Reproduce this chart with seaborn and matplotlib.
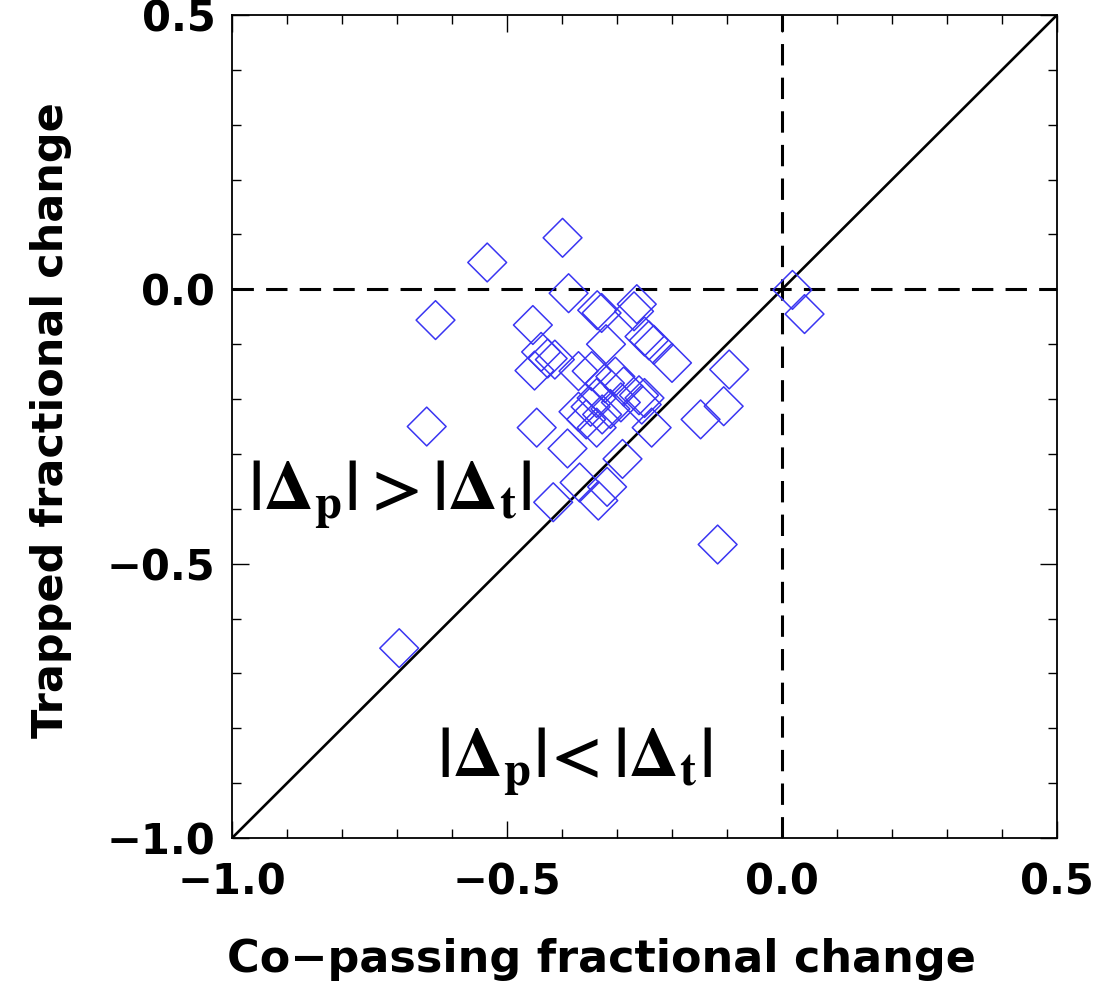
import numpy as np
import pandas as pd
import matplotlib
matplotlib.use("Agg")
import matplotlib.pyplot as plt
from matplotlib.ticker import MultipleLocator
import seaborn as sns

# Fractional change of co-passing vs trapped populations, one diamond per case
co_passing = [
    -0.399, -0.536, -0.388, -0.630, -0.453, -0.336, -0.328, -0.264, -0.269,
    -0.320, -0.250, -0.242, -0.233, -0.200, -0.438, -0.426, -0.450, -0.096,
    -0.646, -0.446, -0.390, -0.106, -0.148, -0.237, -0.290, -0.368, -0.318,
    -0.416, -0.334, -0.117, -0.696, 0.019, 0.041,
    -0.370, -0.346, -0.322, -0.303, -0.288, -0.260, -0.250, -0.255, -0.370,
    -0.356, -0.337, -0.327, -0.293, -0.312, -0.413, -0.337, -0.348,
]
trapped = [
    0.094, 0.049, -0.007, -0.056, -0.065, -0.038, -0.043, -0.027, -0.040,
    -0.100, -0.086, -0.093, -0.101, -0.134, -0.114, -0.126, -0.148, -0.146,
    -0.250, -0.252, -0.290, -0.213, -0.237, -0.252, -0.309, -0.352, -0.360,
    -0.388, -0.385, -0.465, -0.654, -0.001, -0.045,
    -0.149, -0.149, -0.171, -0.159, -0.177, -0.193, -0.198, -0.210, -0.223,
    -0.237, -0.252, -0.228, -0.206, -0.218, -0.128, -0.198, -0.214,
]

x_ticks = [-1.0, -0.5, 0.0, 0.5]
y_ticks = [-1.0, -0.5, 0.0, 0.5]

df = pd.DataFrame({"copassing": co_passing, "trapped": trapped})

sns.set_style("ticks")
plt.rcParams["font.family"] = ["DejaVu Sans"]
plt.rcParams["mathtext.fontset"] = "stix"
for key in ("text.color", "axes.labelcolor", "xtick.color", "ytick.color",
            "axes.edgecolor"):
    plt.rcParams[key] = "black"

fig = plt.figure(figsize=(11.07, 9.82), dpi=100)
ax = fig.add_axes([0.2096, 0.1466, 0.7452, 0.8381])

# Reference lines: identity diagonal and the zero axes
ax.plot([-1.0, 0.5], [-1.0, 0.5], color="black", lw=1.9, zorder=1)
ax.axhline(0.0, color="black", lw=2.2, ls=(0, (7, 4)), zorder=1)
ax.axvline(0.0, color="black", lw=2.2, ls=(0, (7, 4)), zorder=1)

sns.scatterplot(data=df, x="copassing", y="trapped", marker="D", s=390,
                ax=ax, zorder=3, legend=False)
coll = ax.collections[-1]
coll.set_facecolor("none")
coll.set_edgecolor("#3a35f2")
coll.set_linewidth(1.1)

ax.set_xlim(-1.0, 0.5)
ax.set_ylim(-1.0, 0.5)
ax.set_xticks(x_ticks)
ax.set_yticks(y_ticks)
ax.set_xticklabels([f"{v:.1f}".replace("-", "\u2212") for v in x_ticks])
ax.set_yticklabels([f"{v:.1f}".replace("-", "\u2212") for v in y_ticks])
ax.xaxis.set_minor_locator(MultipleLocator(0.1))
ax.yaxis.set_minor_locator(MultipleLocator(0.1))
ax.tick_params(which="both", direction="in", top=True, right=True,
               color="black", width=1.0, labelsize=30)
ax.tick_params(axis="y", pad=12)
ax.tick_params(axis="x", pad=17)
ax.tick_params(which="major", length=12)
ax.tick_params(which="minor", length=6.5)
for lab in ax.get_xticklabels() + ax.get_yticklabels():
    lab.set_fontweight("bold")
for sp in ax.spines.values():
    sp.set_linewidth(1.3)
    sp.set_color("black")

ax.set_xlabel("Co\u2212passing fractional change", fontsize=32,
              fontweight="bold")
ax.set_ylabel("Trapped fractional change", fontsize=31,
              fontweight="bold")
ax.xaxis.set_label_coords(0.448, -0.121)
ax.yaxis.set_label_coords(-0.194, 0.508)

ax.text(-0.971, -0.403, r"$\mathbf{|\Delta_p|>|\Delta_t|}$", fontsize=50,
        ha="left", va="baseline", zorder=4)
ax.text(-0.627, -0.889, r"$\mathbf{|\Delta_p|\!<|\Delta_t|}$", fontsize=50,
        ha="left", va="baseline", zorder=4)

fig.savefig("out.png", dpi=100)
